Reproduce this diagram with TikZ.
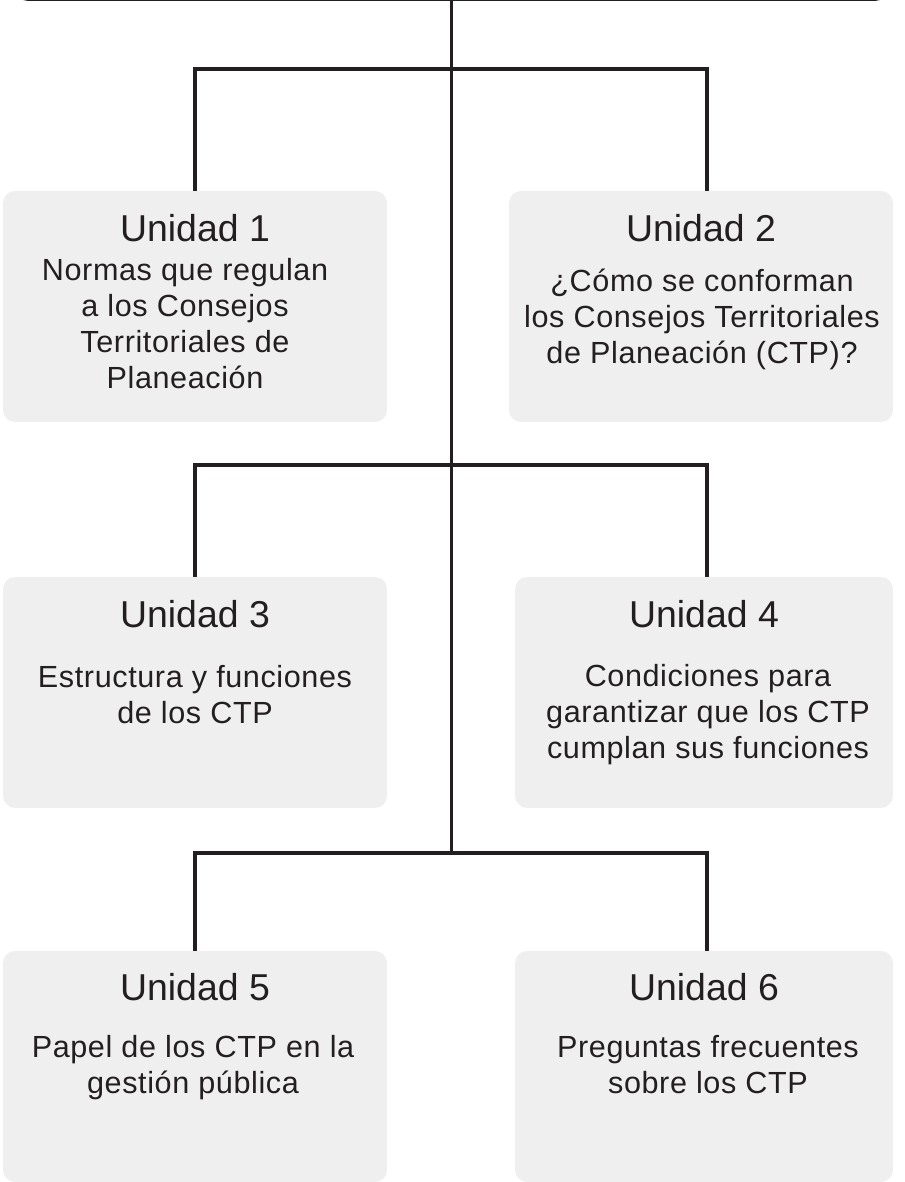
\documentclass[tikz,border=0pt]{standalone}
\usepackage{fontspec}
\setmainfont{Liberation Sans}
\newfontfamily\topicfont[LetterSpace=2]{Liberation Sans}
\definecolor{ink}{HTML}{231F20}
\definecolor{boxgray}{HTML}{EFEFEF}
\begin{document}
\begin{tikzpicture}
  [x=0.02cm,y=-0.02cm,
   unit/.style={fill=boxgray,rounded corners=0.24cm,minimum height=4.62cm,inner sep=0pt},
   title/.style={anchor=base,text=ink,font=\fontsize{21.3}{25}\selectfont,inner sep=0pt},
   topic/.style={anchor=base,align=center,text=ink,font=\topicfont\fontsize{17.4}{20.4}\selectfont,inner sep=0pt},
   link/.style={-,draw=ink,line width=1.9pt},]

  \useasboundingbox (0,0) rectangle (905,1182);

  \node[draw=ink,line width=1.3pt,rounded corners=0.24cm,minimum width=17.42cm,minimum height=3cm,anchor=south] (plan) at (451.5,1) {};

  \node[unit,minimum width=7.68cm] (u1) at (195,306.5) {};
  \node[unit,minimum width=7.68cm] (u2) at (701,306.5) {};
  \node[unit,minimum width=7.68cm] (u3) at (195,692.5) {};
  \node[unit,minimum width=7.56cm] (u4) at (704,692.5) {};
  \node[unit,minimum width=7.68cm] (u5) at (195,1066.5) {};
  \node[unit,minimum width=7.56cm] (u6) at (704,1066.5) {};

  % base of a topic = baseline of its last line
  \node[title] (t1) at (195,242) {Unidad 1};
  \node[topic] (d1) at (185,388) {Normas que regulan\\a los Consejos\\Territoriales de\\Planeación};
  \node[title] (t2) at (701,242) {Unidad 2};
  \node[topic] (d2) at (702,363) {¿Cómo se conforman\\los Consejos Territoriales\\de Planeación (CTP)?};
  \node[title] (t3) at (195,627) {Unidad 3};
  \node[topic] (d3) at (195,723) {Estructura y funciones\\de los CTP};
  \node[title] (t4) at (704,627) {Unidad 4};
  \node[topic] (d4) at (708,758) {Condiciones para\\garantizar que los CTP\\cumplan sus funciones};
  \node[title] (t5) at (195,1000) {Unidad 5};
  \node[topic] (d5) at (193,1093) {Papel de los CTP en la\\gestión pública};
  \node[title] (t6) at (704,1000) {Unidad 6};
  \node[topic] (d6) at (708,1093) {Preguntas frecuentes\\sobre los CTP};

  \coordinate (j1) at (451,69);
  \coordinate (j2) at (451,465);
  \coordinate (j3) at (451,853);

  \draw[link] (plan.south) -- (plan.south |- j3);
  \draw[link] (u1.north) |- (j1) -| ([xshift=0.12cm]u2.north);
  \draw[link] (u3.north) |- (j2) -| ([xshift=0.06cm]u4.north);
  \draw[link] (u5.north) |- (j3) -| ([xshift=0.06cm]u6.north);

\end{tikzpicture}
\end{document}
